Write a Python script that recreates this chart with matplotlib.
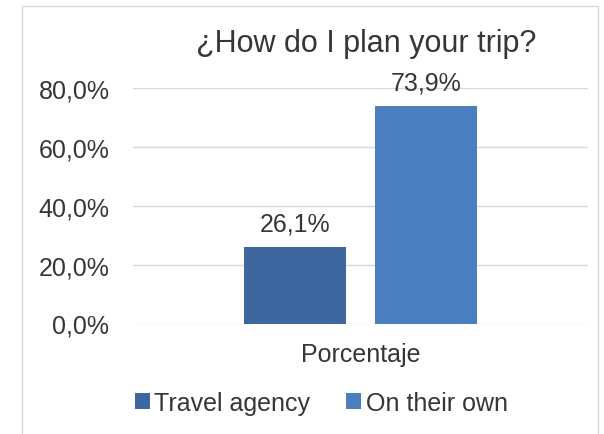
import matplotlib.pyplot as plt
from matplotlib.patches import Rectangle

# survey share per answer
series = ["Travel agency", "On their own"]
values = [26.1, 73.9]
category = "Porcentaje"
yticks = [0, 20, 40, 60, 80]
colors = ["#3d679e", "#4a7ebe"]

plt.rcParams["font.family"] = ["Liberation Sans", "DejaVu Sans"]
text_col = "#363636"


def pct(v):
    return f"{v:.1f}".replace(".", ",") + "%"


fig = plt.figure(figsize=(6.04, 4.35), dpi=100)
ax = fig.add_axes([133 / 604, 1 - 324.5 / 435, 455 / 604, 235.5 / 435])

# chart frame
fig.patches.append(Rectangle((22 / 604, -0.05), 576 / 604, 1.05 - 7 / 435,
                             transform=fig.transFigure, fill=False,
                             edgecolor="#d9d9d9", lw=1))

cat_x = 0.5
offsets = [-0.1434, 0.1434]
width = 0.224
for name, v, off, c in zip(series, values, offsets, colors):
    ax.bar(cat_x + off, v, width=width, color=c, label=name, zorder=2)
    ax.annotate(pct(v), (cat_x + off, v),
                xytext=(0, 12), textcoords="offset points",
                ha="center", va="baseline", fontsize=18, color=text_col,
                annotation_clip=False)

ax.set_xlim(0, 1)
ax.set_ylim(0, 80)
ax.set_yticks(yticks)
ax.set_yticklabels([pct(t) for t in yticks])
ax.set_xticks([cat_x])
ax.set_xticklabels([category])
ax.tick_params(length=0, labelcolor=text_col)
ax.tick_params(axis="y", pad=17, labelsize=18)
ax.tick_params(axis="x", pad=13, labelsize=18)
ax.grid(axis="y", color="#d9d9d9", lw=1, zorder=0)
ax.set_axisbelow(True)
for s in ax.spines.values():
    s.set_visible(False)

fig.text(366 / 604, 1 - 52 / 435, "¿How do I plan your trip?",
         ha="center", va="baseline", fontsize=22, color=text_col)

fig.legend(loc="center", bbox_to_anchor=(321 / 604, 1 - 404 / 435), ncol=2,
           frameon=False, fontsize=18, labelcolor=text_col,
           handlelength=0.6, handleheight=0.6, handletextpad=0.2,
           columnspacing=1.4)

fig.savefig("out.png", dpi=100)
